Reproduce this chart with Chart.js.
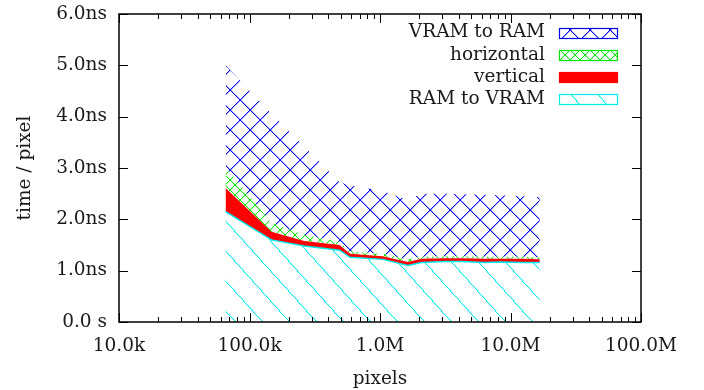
<!DOCTYPE html>
<html>
<head>
<meta charset="utf-8">
<script src="https://cdn.jsdelivr.net/npm/chart.js@4.4.1/dist/chart.umd.min.js"></script>
<style>
  html, body { margin: 0; padding: 0; background: #ffffff; }
  #c { display: block; }
</style>
</head>
<body>
<canvas id="c" width="704" height="390"></canvas>
<script>
// ---- data ----
const pixels      = [65536, 147456, 262144, 490000, 589824, 1048576, 1638400, 2073600, 3145728, 4194304, 6291456, 8388608, 12582912, 16777216];
const ramToVram   = [2.15, 1.60, 1.48, 1.40, 1.26, 1.22, 1.10, 1.16, 1.18, 1.18, 1.16, 1.17, 1.16, 1.16];
const vertical    = [0.46, 0.16, 0.10, 0.10, 0.07, 0.06, 0.07, 0.07, 0.06, 0.06, 0.07, 0.06, 0.07, 0.06];
const horizontal  = [0.41, 0.17, 0.12, 0.06, 0.05, 0.05, 0.05, 0.04, 0.04, 0.04, 0.04, 0.04, 0.04, 0.04];
const vramToRam   = [1.98, 2.12, 1.72, 1.16, 1.28, 1.22, 1.15, 1.23, 1.22, 1.21, 1.21, 1.20, 1.18, 1.17];

const yTickValues = [0, 1, 2, 3, 4, 5, 6];
const yTickLabels = ['0.0 s', '1.0ns', '2.0ns', '3.0ns', '4.0ns', '5.0ns', '6.0ns'];
const xTickValues = [1e4, 1e5, 1e6, 1e7, 1e8];
const xTickLabels = ['10.0k', '100.0k', '1.0M', '10.0M', '100.0M'];

// ---- styling helpers ----
const FONT = { family: 'DejaVu Serif', size: 18.5 };
const TEXT = '#1a1a1a';
const CYAN = 'rgb(0,235,235)';
const BLUE = 'rgb(0,0,240)';
const GREEN = 'rgb(0,230,0)';
const RED = 'rgb(255,0,0)';

function makePattern(w, h, color, halo, both) {
  const p = document.createElement('canvas');
  p.width = w; p.height = h;
  const g = p.getContext('2d');
  const n = Math.max(w, h);
  const dot = (x, y) => {
    g.fillStyle = color; g.globalAlpha = 1; g.fillRect(x, y, 1, 1);
    if (halo) { g.globalAlpha = halo; g.fillRect((x + 1) % w, y, 1, 1); }
  };
  for (let i = 0; i < n; i++) {
    const x = Math.floor(i * w / n), y = Math.floor(i * h / n);
    dot(x, y);
    if (both) dot(w - 1 - x, y);
  }
  return document.getElementById('c').getContext('2d').createPattern(p, 'repeat');
}
const cyanPat = makePattern(27, 30, CYAN, 0.25, false);
const bluePat = makePattern(20, 20, BLUE, 0.35, true);
const greenPat = makePattern(10, 10, GREEN, 0.2, true);

function pts(arr) { return pixels.map((x, i) => ({ x: x, y: arr[i] })); }

const framePlugin = {
  id: 'frame',
  afterDraw(chart) {
    const ctx = chart.ctx, a = chart.chartArea;
    const xs = chart.scales.x, ys = chart.scales.y;
    ctx.save();
    ctx.strokeStyle = '#000'; ctx.lineWidth = 1.5;
    ctx.strokeRect(a.left, a.top, a.right - a.left, a.bottom - a.top);
    ctx.lineWidth = 1;
    ctx.beginPath();
    for (let d = 0; d < xTickValues.length; d++) {
      const base = xTickValues[d];
      for (let m = 1; m <= 9; m++) {
        const v = base * m;
        if (v > xTickValues[xTickValues.length - 1]) break;
        const px = Math.round(xs.getPixelForValue(v)) + 0.5;
        const len = m === 1 ? 9 : 5;
        ctx.moveTo(px, a.bottom); ctx.lineTo(px, a.bottom - len);
        ctx.moveTo(px, a.top); ctx.lineTo(px, a.top + len);
      }
    }
    yTickValues.forEach(v => {
      const py = Math.round(ys.getPixelForValue(v)) + 0.5;
      ctx.moveTo(a.left, py); ctx.lineTo(a.left + 9, py);
      ctx.moveTo(a.right, py); ctx.lineTo(a.right - 9, py);
    });
    ctx.stroke();

    // legend (top-right, text right-aligned, sample box to the right)
    const order = [3, 2, 1, 0];
    ctx.font = FONT.size + 'px ' + FONT.family;
    ctx.textAlign = 'right'; ctx.textBaseline = 'middle';
    order.forEach((di, row) => {
      const ds = chart.data.datasets[di];
      const cy = 32.5 + row * 22.3;
      ctx.fillStyle = TEXT;
      ctx.fillText(ds.label, 545, cy);
      const bx = 559.5, by = Math.round(cy - 5) + 0.5, bw = 58, bh = 10;
      ctx.fillStyle = ds.backgroundColor;
      ctx.fillRect(bx, by, bw, bh);
      ctx.strokeStyle = ds.legendBorder;
      ctx.lineWidth = 1.2;
      ctx.strokeRect(bx, by, bw, bh);
    });
    ctx.restore();
  }
};

new Chart(document.getElementById('c'), {
  type: 'line',
  data: {
    datasets: [
      { label: 'RAM to VRAM', data: pts(ramToVram), fill: 'origin', backgroundColor: cyanPat, legendBorder: CYAN,
        borderColor: CYAN, borderWidth: 1.5, pointRadius: 0, tension: 0 },
      { label: 'vertical', data: pts(vertical), fill: '-1', backgroundColor: RED, legendBorder: RED,
        borderColor: RED, borderWidth: 0, pointRadius: 0, tension: 0 },
      { label: 'horizontal', data: pts(horizontal), fill: '-1', backgroundColor: greenPat, legendBorder: GREEN,
        borderColor: GREEN, borderWidth: 0, pointRadius: 0, tension: 0 },
      { label: 'VRAM to RAM', data: pts(vramToRam), fill: '-1', backgroundColor: bluePat, legendBorder: BLUE,
        borderColor: BLUE, borderWidth: 0, pointRadius: 0, tension: 0 }
    ]
  },
  options: {
    responsive: false,
    devicePixelRatio: 1,
    animation: false,
    layout: { padding: { top: 14, right: 63, left: 0, bottom: 0 } },
    plugins: { legend: { display: false }, tooltip: { enabled: false } },
    scales: {
      x: {
        type: 'logarithmic', min: 1e4, max: 1e8,
        afterBuildTicks: s => { s.ticks = xTickValues.map(v => ({ value: v, major: true })); },
        afterFit: s => { s.height = 68; },
        ticks: { autoSkip: false, maxRotation: 0, color: TEXT, font: FONT, padding: 13,
                 callback: (v, i) => xTickLabels[i] },
        grid: { display: false, drawTicks: false },
        border: { display: false },
        title: { display: true, text: 'pixels', color: TEXT, font: FONT, padding: { top: 8, bottom: 0 } }
      },
      y: {
        stacked: true, min: 0, max: 6,
        afterBuildTicks: s => { s.ticks = yTickValues.map(v => ({ value: v })); },
        afterFit: s => { s.width = 119; s.paddingTop = 0; s.paddingBottom = 0; },
        ticks: { autoSkip: false, color: TEXT, font: FONT, padding: 12,
                 callback: (v, i) => yTickLabels[i] },
        grid: { display: false, drawTicks: false },
        border: { display: false },
        title: { display: true, text: 'time / pixel', color: TEXT, font: FONT, padding: { top: 14, bottom: 0 } }
      }
    }
  },
  plugins: [framePlugin]
});
</script>
</body>
</html>
